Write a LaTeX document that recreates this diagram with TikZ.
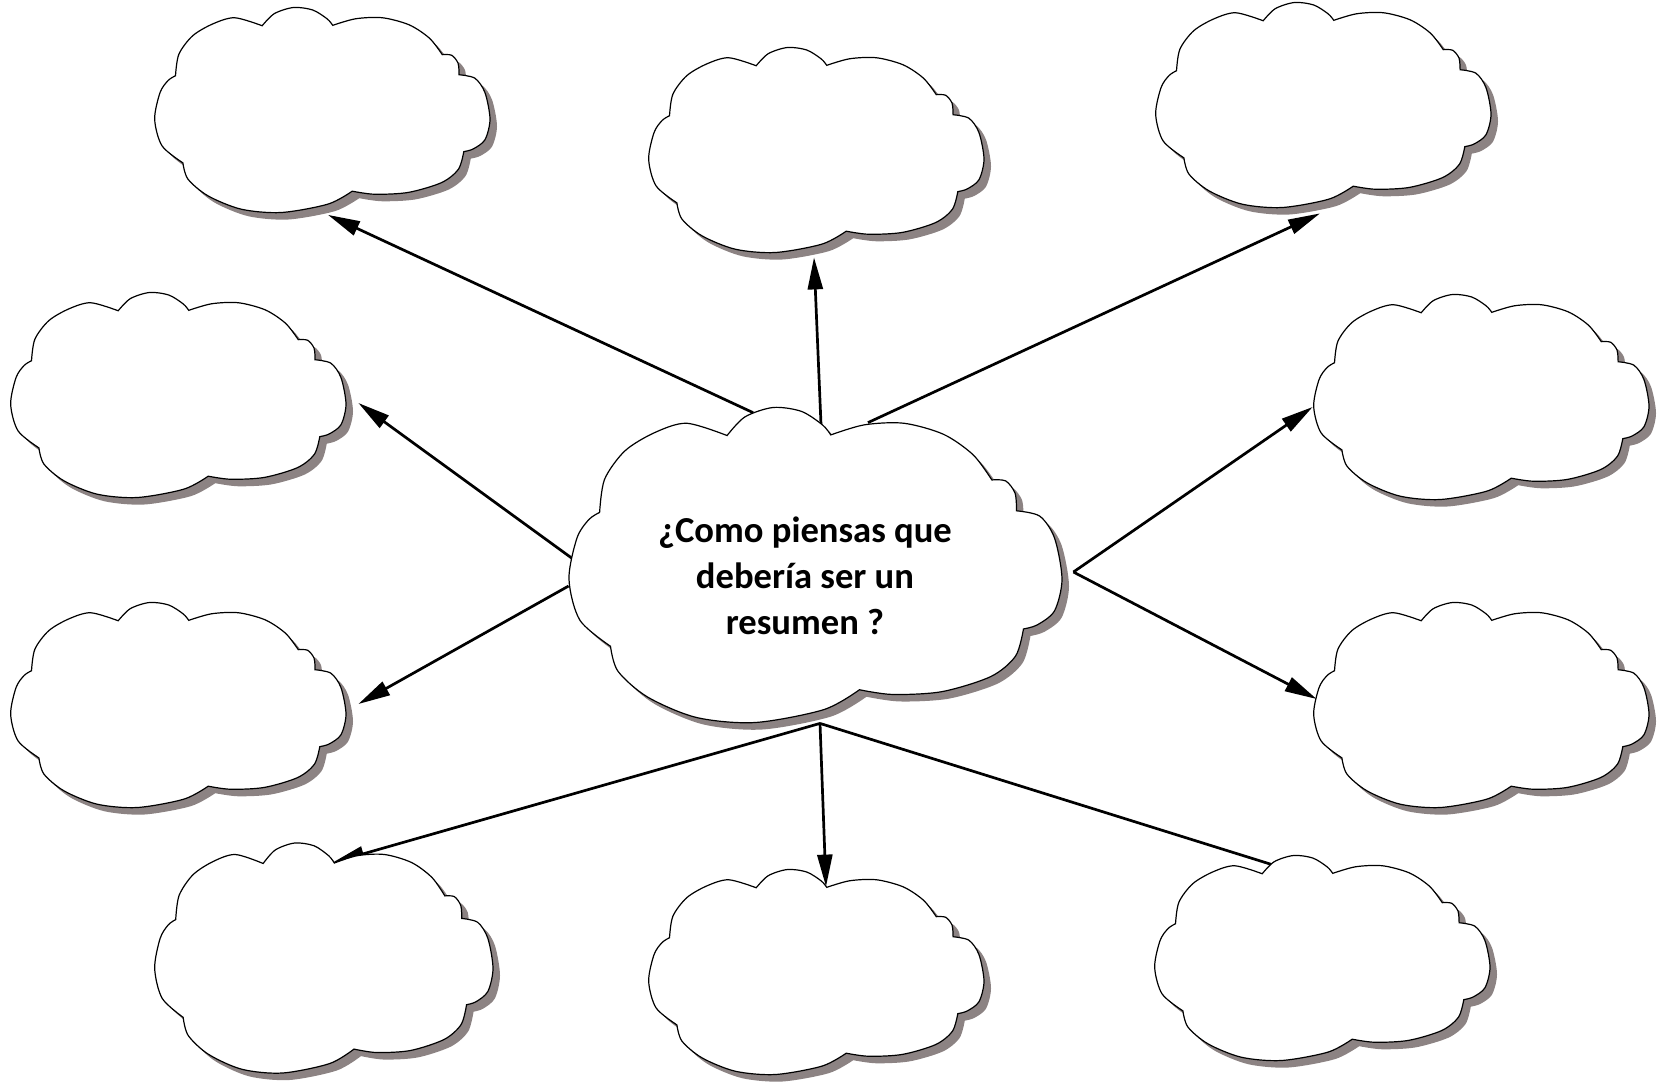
\documentclass[tikz,border=0pt]{standalone}
\usepackage{fontspec}
\setmainfont{Carlito}
\usepackage{tikz}
\usetikzlibrary{arrows.meta, backgrounds}
\definecolor{cloudgrey}{RGB}{140,131,131}
\tikzstyle{blob}     = [rectangle, inner sep=0pt]
\tikzstyle{puff}     = [fill=white, draw=black, line width=0.6pt]
\tikzstyle{question} = [font=\bfseries\fontsize{18.3}{22.9}\selectfont]
\tikzstyle{arrow}    = [line width=1.35pt, -{Triangle[length=16pt, width=7.5pt]}]
\tikzset{every node/.style={align=center}}

% outline of a cloud in the unit box, one smooth plot per bump
\newcommand{\cloudpath}{%
  plot[smooth] coordinates {(0.086,0.758) (0.024,0.675) (0.002,0.545) (0.018,0.415) (0.042,0.356) (0.064,0.333)}
  -- plot[smooth] coordinates {(0.064,0.333) (0.074,0.228) (0.115,0.138) (0.175,0.08) (0.24,0.05) (0.322,0.089)}
  -- plot[smooth] coordinates {(0.322,0.089) (0.358,0.03) (0.415,0.0) (0.472,0.012) (0.515,0.055) (0.532,0.087)}
  -- plot[smooth] coordinates {(0.532,0.087) (0.60,0.055) (0.68,0.05) (0.76,0.085) (0.82,0.15) (0.858,0.23)}
  -- plot[smooth] coordinates {(0.858,0.23) (0.886,0.233) (0.905,0.272) (0.908,0.328)}
  -- plot[smooth] coordinates {(0.908,0.328) (0.955,0.345) (0.985,0.415) (1.0,0.545) (0.985,0.645) (0.95,0.69) (0.922,0.703)}
  -- plot[smooth] coordinates {(0.922,0.703) (0.906,0.789) (0.856,0.854) (0.757,0.902) (0.657,0.911) (0.59,0.896)}
  -- plot[smooth] coordinates {(0.59,0.896) (0.518,0.959) (0.379,1.0) (0.26,0.984) (0.161,0.919) (0.101,0.837) (0.086,0.758)}
  -- cycle}
% cloud with shadow: name, centre x, centre y, width, height
\newcommand{\cloud}[5]{%
  \pgfmathsetmacro{\cldx}{#4*0.5}%
  \pgfmathsetmacro{\cldy}{-#5*0.5}%
  \begin{scope}[shift={(#2-#4/2+7,#3-#5/2+7)}, x=\cldx pt, y=\cldy pt]
    \fill[cloudgrey] \cloudpath;
  \end{scope}
  \begin{scope}[shift={(#2-#4/2,#3-#5/2)}, x=\cldx pt, y=\cldy pt]
    \path[puff] \cloudpath;
  \end{scope}
  \node (#1) [blob, minimum width=#4*0.5pt, minimum height=#5*0.5pt] at (#2,#3) {};}

\begin{document}
\begin{tikzpicture}[x=0.5pt, y=-0.5pt]
    \useasboundingbox (0,0) rectangle (1659,1082);
    \cloud{ask}{815}{565}{494}{315}
    \cloud{tl}{322}{110}{336}{205}
    \cloud{tc}{816}{150}{336}{205}
    \cloud{tr}{1323}{105}{336}{205}
    \cloud{ml}{178}{395}{336}{205}
    \cloud{mr}{1481}{397}{336}{205}
    \cloud{ll}{178}{705}{336}{205}
    \cloud{lr}{1481}{705}{336}{205}
    \cloud{bl}{323.5}{958}{339}{230}
    \cloud{bc}{816}{972}{336}{205}
    \cloud{br}{1322}{958}{336}{205}
    \node (q) at (805,576) [question] {¿Como piensas que\\debería ser un\\resumen ?};

    \begin{scope}[on background layer]
    % upper fan
    \draw [arrow] ([shift={(-62,5.5)}]ask.north) -- ([shift={(6,2)}]tl.south);
    \draw [arrow] ([shift={(6,17.5)}]ask.north)  -- ([shift={(-2,4.5)}]tc.south);
    \draw [arrow] ([shift={(53,15.5)}]ask.north) -- ([shift={(-3,5.5)}]tr.south);
    % left side
    \draw [arrow] ([shift={(4,-7)}]ask.west) -- ([shift={(12,8)}]ml.east);
    \draw [arrow] ([shift={(1,21)}]ask.west) -- ([shift={(12,-1)}]ll.east);
    % right side, both from one point
    \draw [arrow] ([shift={(11,7)}]ask.east) -- ([shift={(-0,10)}]mr.west);
    \draw [arrow] ([shift={(11,7)}]ask.east) -- ([shift={(4,-6)}]lr.west);
    % lower fan, from one point
    \draw [arrow] ([shift={(5,0.5)}]ask.south) -- ([shift={(9,20)}]bl.north);
    \draw [arrow] ([shift={(5,0.5)}]ask.south) -- ([shift={(10,17.5)}]bc.north);
    \draw [arrow] ([shift={(5,0.5)}]ask.south) -- ([shift={(-2,24.5)}]br.north);
    \end{scope}
\end{tikzpicture}
\end{document}
